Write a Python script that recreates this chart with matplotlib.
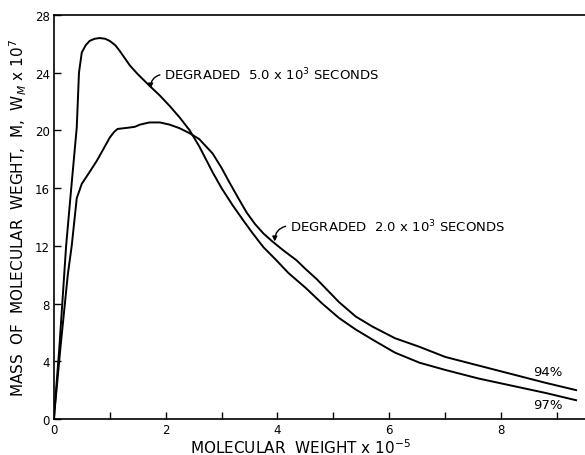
import matplotlib
matplotlib.use("Agg")
import matplotlib.pyplot as plt
from matplotlib.ticker import MultipleLocator

# ── data ─────────────────────────────────────────────────────────────────────
# degraded 5.0 x 10^3 s  (97 %)
mw_5 = [0, 0.1, 0.22, 0.3, 0.41, 0.45, 0.5, 0.57, 0.64, 0.73, 0.82, 0.92,
        1.0, 1.1, 1.18, 1.27, 1.36, 1.5, 1.71, 1.9, 2.07, 2.25, 2.43, 2.6,
        2.84, 3.0, 3.2, 3.4, 3.55, 3.75, 3.98, 4.2, 4.5, 4.8, 5.1, 5.4,
        5.7, 6.1, 6.54, 7.0, 7.6, 8.2, 8.8, 9.34]
mass_5 = [0, 5, 12, 15.5, 20.2, 24.0, 25.4, 25.9, 26.2, 26.35, 26.4, 26.35,
          26.2, 25.9, 25.5, 25.0, 24.5, 23.9, 23.1, 22.4, 21.7, 20.9, 20.0, 18.9,
          17.1, 16.0, 14.8, 13.7, 12.9, 11.9, 11.0, 10.1, 9.1, 8.0, 7.0, 6.2,
          5.5, 4.6, 3.9, 3.4, 2.8, 2.3, 1.8, 1.3]

# degraded 2.0 x 10^3 s  (94 %)
mw_2 = [0, 0.12, 0.25, 0.32, 0.41, 0.5, 0.62, 0.77, 0.9, 1.0, 1.08, 1.14,
        1.25, 1.36, 1.45, 1.54, 1.71, 1.9, 2.07, 2.25, 2.43, 2.6, 2.84, 3.0,
        3.14, 3.3, 3.45, 3.6, 3.75, 3.91, 4.1, 4.34, 4.5, 4.7, 4.9, 5.1,
        5.4, 5.7, 6.1, 6.54, 7.0, 7.6, 8.2, 8.8, 9.34]
mass_2 = [0, 5, 10, 12, 15.3, 16.3, 17.0, 17.9, 18.8, 19.5, 19.9, 20.1,
          20.15, 20.2, 20.25, 20.4, 20.55, 20.55, 20.4, 20.15, 19.8, 19.4, 18.4, 17.4,
          16.4, 15.3, 14.3, 13.5, 12.85, 12.3, 11.7, 11.0, 10.4, 9.7, 8.9, 8.1,
          7.1, 6.4, 5.6, 5.0, 4.3, 3.7, 3.1, 2.5, 2.0]

x_major = [0, 2, 4, 6, 8]
y_major = [0, 4, 8, 12, 16, 20, 24, 28]

FS = 9.5

fig = plt.figure(figsize=(5.85, 4.56), dpi=100)
ax = fig.add_axes([0.092, 0.079, 0.908, 0.886])

ax.plot(mw_5, mass_5, color="black", linewidth=1.4)
ax.plot(mw_2, mass_2, color="black", linewidth=1.4)

ax.set_xlim(0, 9.5)
ax.set_ylim(0, 28)
ax.set_xticks(x_major)
ax.set_yticks(y_major)
ax.xaxis.set_minor_locator(MultipleLocator(1))
ax.tick_params(direction="in", length=5, width=1.0, labelsize=8.5, pad=3)
ax.tick_params(axis="x", which="minor", direction="in", length=5, width=1.0)
ax.tick_params(axis="y", which="minor", length=0)
ax.spines["right"].set_visible(False)
for s in ("left", "bottom", "top"):
    ax.spines[s].set_linewidth(1.2)

ax.set_xlabel(r"MOLECULAR  WEIGHT x 10$^{-5}$", fontsize=11, va="center")
ax.xaxis.set_label_coords(0.464, -0.068)
ax.set_ylabel(r"MASS  OF  MOLECULAR  WEGHT,  M,  W$_M$ x 10$^7$", fontsize=11,
              va="center")
ax.yaxis.set_label_coords(-0.066, 0.5)

# ── annotations ──────────────────────────────────────────────────────────────
arrow = dict(arrowstyle="-|>", color="black", lw=1.0, mutation_scale=7,
             connectionstyle="arc3,rad=0.45", relpos=(0, 0.5),
             shrinkA=1, shrinkB=0)
ax.annotate(r"DEGRADED  5.0 x 10$^3$ SECONDS", xy=(1.73, 22.9), xytext=(1.97, 23.9),
            fontsize=FS, ha="left", va="center", arrowprops=arrow)
ax.annotate(r"DEGRADED  2.0 x 10$^3$ SECONDS", xy=(3.95, 12.3), xytext=(4.22, 13.4),
            fontsize=FS, ha="left", va="center", arrowprops=arrow)
ax.text(8.83, 3.3, "94%", fontsize=FS, ha="center", va="center")
ax.text(8.83, 1.0, "97%", fontsize=FS, ha="center", va="center")

fig.savefig("out.png", dpi=100)
